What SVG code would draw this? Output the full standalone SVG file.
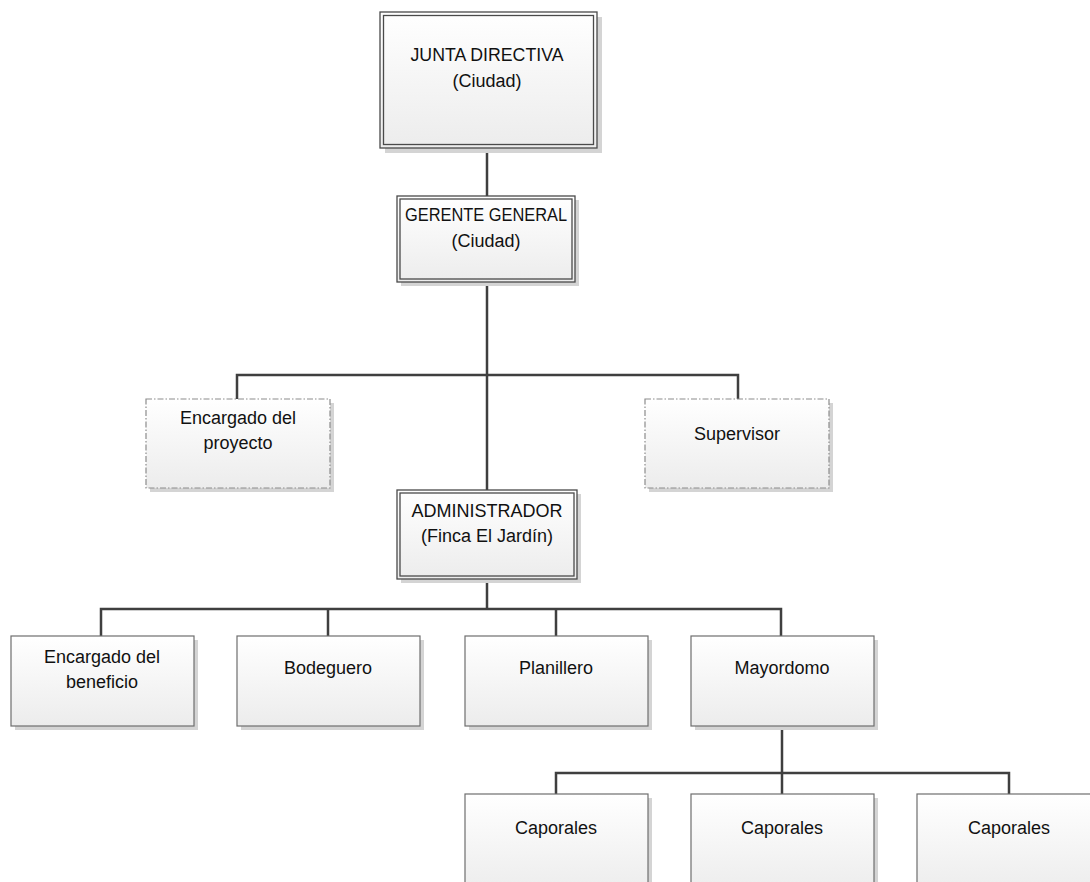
<svg xmlns="http://www.w3.org/2000/svg" width="1090" height="882" viewBox="0 0 1090 882">
  <style>
    .shadow { fill: #d4d4d4; }
    .box { fill: url(#boxFill); stroke: #6e6e6e; stroke-width: 1.2; }
    .outer { fill: url(#boxFill); stroke: #4a4a4a; stroke-width: 1.3; }
    .inner { fill: none; stroke: #4a4a4a; stroke-width: 1.3; }
    .dashed { fill: url(#boxFill); stroke: #8c8c8c; stroke-width: 1.2; stroke-dasharray: 6 2 1.5 2; }
    .wire { fill: none; stroke: #3f3f3f; stroke-width: 2.5; stroke-linejoin: miter; }
    text { font-family: "Liberation Sans", Arial, sans-serif; font-size: 18px; fill: #111; text-anchor: middle; }
  </style>
  <defs>
    <linearGradient id="boxFill" x1="0" y1="0" x2="0" y2="1">
      <stop offset="0" stop-color="#ffffff"/>
      <stop offset="1" stop-color="#ececec"/>
    </linearGradient>
  </defs>
  <rect width="1090" height="882" fill="#ffffff"/>

  <!-- connectors -->
  <g id="connectors">
    <path class="wire" d="M487 148 V196"/>
    <path class="wire" d="M487 282 V490"/>
    <path class="wire" d="M237 399 V375 H738 V399"/>
    <path class="wire" d="M487 579 V609"/>
    <path class="wire" d="M101 636 V609 H781 V636"/>
    <path class="wire" d="M328 609 V636"/>
    <path class="wire" d="M556 609 V636"/>
    <path class="wire" d="M782 726 V773"/>
    <path class="wire" d="M556 794 V773 H1009 V794"/>
    <path class="wire" d="M782 773 V794"/>
  </g>

  <!-- board -->
  <g id="junta">
    <rect class="shadow" x="385" y="17" width="217" height="136"/>
    <rect class="outer" x="380" y="12" width="217" height="136"/>
    <rect class="inner" x="383.5" y="15.5" width="210" height="129"/>
    <text x="487" y="61" textLength="153" lengthAdjust="spacingAndGlyphs">JUNTA DIRECTIVA</text>
    <text x="487" y="87">(Ciudad)</text>
  </g>

  <g id="gerente">
    <rect class="shadow" x="401" y="200" width="178" height="86"/>
    <rect class="outer" x="397" y="196" width="178" height="86"/>
    <rect class="inner" x="400" y="199" width="172" height="80"/>
    <text x="486" y="221" textLength="162" lengthAdjust="spacingAndGlyphs">GERENTE GENERAL</text>
    <text x="486" y="247">(Ciudad)</text>
  </g>

  <g id="encargado-proyecto">
    <rect class="shadow" x="150" y="403" width="184" height="89"/>
    <rect class="dashed" x="146" y="399" width="184" height="89"/>
    <text x="238" y="424">Encargado del</text>
    <text x="238" y="449">proyecto</text>
  </g>

  <g id="supervisor">
    <rect class="shadow" x="649" y="403" width="184" height="89"/>
    <rect class="dashed" x="645" y="399" width="184" height="89"/>
    <text x="737" y="440">Supervisor</text>
  </g>

  <g id="administrador">
    <rect class="shadow" x="401" y="494" width="180" height="89"/>
    <rect class="outer" x="397" y="490" width="180" height="89"/>
    <rect class="inner" x="400" y="493" width="174" height="83"/>
    <text x="487" y="517" textLength="151" lengthAdjust="spacingAndGlyphs">ADMINISTRADOR</text>
    <text x="487" y="542">(Finca El Jardín)</text>
  </g>

  <g id="encargado-beneficio">
    <rect class="shadow" x="15" y="640" width="183" height="90"/>
    <rect class="box" x="11" y="636" width="183" height="90"/>
    <text x="102" y="663">Encargado del</text>
    <text x="102" y="688">beneficio</text>
  </g>

  <g id="bodeguero">
    <rect class="shadow" x="241" y="640" width="183" height="90"/>
    <rect class="box" x="237" y="636" width="183" height="90"/>
    <text x="328" y="674">Bodeguero</text>
  </g>

  <g id="planillero">
    <rect class="shadow" x="469" y="640" width="183" height="90"/>
    <rect class="box" x="465" y="636" width="183" height="90"/>
    <text x="556" y="674">Planillero</text>
  </g>

  <g id="mayordomo">
    <rect class="shadow" x="695" y="640" width="183" height="90"/>
    <rect class="box" x="691" y="636" width="183" height="90"/>
    <text x="782" y="674">Mayordomo</text>
  </g>

  <g id="caporales-1">
    <rect class="shadow" x="469" y="798" width="183" height="100"/>
    <rect class="box" x="465" y="794" width="183" height="100"/>
    <text x="556" y="834">Caporales</text>
  </g>

  <g id="caporales-2">
    <rect class="shadow" x="695" y="798" width="183" height="100"/>
    <rect class="box" x="691" y="794" width="183" height="100"/>
    <text x="782" y="834">Caporales</text>
  </g>

  <g id="caporales-3">
    <rect class="shadow" x="921" y="798" width="183" height="100"/>
    <rect class="box" x="917" y="794" width="183" height="100"/>
    <text x="1009" y="834">Caporales</text>
  </g>
</svg>
